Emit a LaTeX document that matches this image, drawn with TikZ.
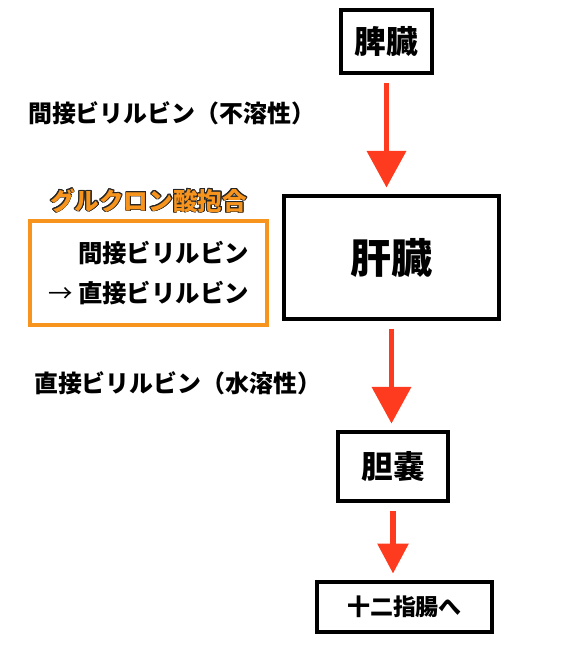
\documentclass[tikz,border=0pt]{standalone}
\usepackage{fontspec}
\usepackage{xcolor}
\usepackage{tikz}
\usepackage{contour}
\usetikzlibrary{arrows.meta, positioning}
\setmainfont{Noto Sans CJK JP}
\definecolor{flowred}{HTML}{FF3B1F}
\definecolor{conjorange}{HTML}{F7941D}
\contourlength{0.7pt}
\tikzstyle{organ} = [rectangle, draw=black, line width=3pt, fill=white, text centered, font=\bfseries]
\tikzstyle{note} = [font=\bfseries\fontsize{20.4}{24}\selectfont, anchor=west]
\tikzstyle{conj} = [rectangle, draw=conjorange, line width=3pt, align=right, minimum width=7.11cm, minimum height=3.12cm, font=\bfseries\fontsize{20.8}{34}\selectfont]
\tikzstyle{flow} = [line width=5pt, draw=flowred, -{Triangle[length=1.1cm, width=1.15cm]}, shorten <=0.24cm, shorten >=0.2cm]

\begin{document}
\begin{tikzpicture}[x=0.03cm, y=0.03cm]
    \useasboundingbox (0,0) rectangle (583,-645);
    \node[organ, minimum width=2.73cm, minimum height=1.89cm, font=\bfseries\fontsize{27}{30}\selectfont] (hizo) at (386.5,-41.5) {脾臓};
    \node[organ, minimum width=6.45cm, minimum height=3.69cm, font=\bfseries\fontsize{35}{40}\selectfont] (kanzo) at (391.5,-257.5) {肝臓};
    \node[organ, minimum width=3.3cm, minimum height=2.07cm, font=\bfseries\fontsize{27}{30}\selectfont] (tannou) at (393,-466.5) {胆嚢};
    \node[organ, minimum width=5.25cm, minimum height=1.5cm, font=\bfseries\fontsize{19.6}{22}\selectfont] (juuni) at (404.5,-607) {十二指腸へ};

    \node[note] (kansetsu) at (24,-113) {間接ビリルビン（不溶性）};
    \node[note] (chokusetsu) at (30,-383) {直接ビリルビン（水溶性）};

    \node[conj] (conjbox) at (148.5,-273) {間接ビリルビン\\{\mdseries →} 直接ビリルビン};
    \node[above=0.05cm of conjbox, text=conjorange, font=\bfseries\fontsize{21}{24}\selectfont] (gluc) {\contour{black!85}{グルクロン酸抱合}};

    \draw[flow] (hizo.south) -- (hizo.south |- kanzo.north);
    \draw[flow] (kanzo.south) -- (kanzo.south |- tannou.north);
    \draw[flow, -{Triangle[length=0.9cm, width=0.9cm]}] (tannou.south) -- (tannou.south |- juuni.north);
\end{tikzpicture}
\end{document}
